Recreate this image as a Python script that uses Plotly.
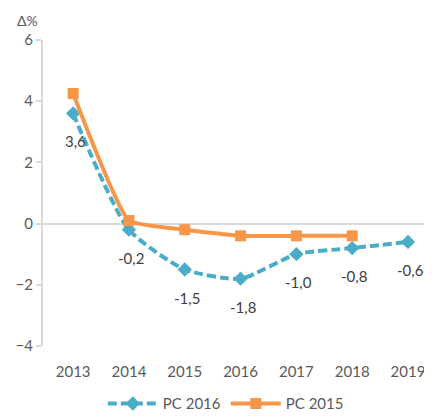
import plotly.graph_objects as go

years = ['2013', '2014', '2015', '2016', '2017', '2018', '2019']
pc2016 = [3.6, -0.2, -1.5, -1.8, -1.0, -0.8, -0.6]
pc2015 = [4.25, 0.1, -0.2, -0.4, -0.4, -0.4]

blue = '#4BACC6'
orange = '#F79646'
grey = '#595959'
font = 'Lato, Open Sans, sans-serif'

trace_2016 = go.Scatter(
    x=years, y=pc2016, name='PC 2016',
    mode='lines+markers',
    line=dict(color=blue, width=4, dash='9px,4px', shape='spline', smoothing=0.6),
    marker=dict(symbol='diamond', size=11, color=blue))

trace_2015 = go.Scatter(
    x=years[:len(pc2015)], y=pc2015, name='PC 2015',
    mode='lines+markers',
    line=dict(color=orange, width=4, shape='spline', smoothing=0.4),
    marker=dict(symbol='square', size=11, color=orange))

# data labels under the PC 2016 points (category index as x)
labels = []
for i, v in enumerate(pc2016):
    labels.append(dict(
        x=i, y=v, text=f'{v:.1f}'.replace('.', ','),
        showarrow=False, yshift=-28, xshift=2,
        font=dict(size=15, color='#404040', family=font)))

labels.append(dict(
    x=0, y=1, xref='paper', yref='paper', text='Δ%',
    showarrow=False, xanchor='right', yanchor='bottom',
    xshift=-3, yshift=9,
    font=dict(size=14, color=grey, family=font)))

# page has an 8px body margin, so the figure is 8px smaller
fig = go.Figure(data=[trace_2016, trace_2015])
fig.update_layout(
    width=424, height=408,
    margin=dict(l=35, r=0, t=32, b=70),
    paper_bgcolor='white', plot_bgcolor='white',
    font=dict(family=font, size=15, color=grey),
    showlegend=True,
    legend=dict(orientation='h', x=0.47, xanchor='center',
                yref='container', y=0.03, yanchor='middle',
                font=dict(size=15, color=grey), itemwidth=50),
    annotations=labels,
)
fig.update_xaxes(
    type='category', range=[-0.54, 6.43],
    showgrid=False, zeroline=False, showline=False,
    ticks='outside', ticklen=12, tickcolor='rgba(0,0,0,0)')
fig.update_yaxes(
    range=[-4, 6], dtick=2, showgrid=False,
    zeroline=True, zerolinecolor='#d9d9d9', zerolinewidth=2,
    showline=True, linecolor='#d9d9d9', linewidth=2,
    ticks='outside', ticklen=5, tickcolor='#d9d9d9', tickwidth=2)

fig.write_html("out.html")
